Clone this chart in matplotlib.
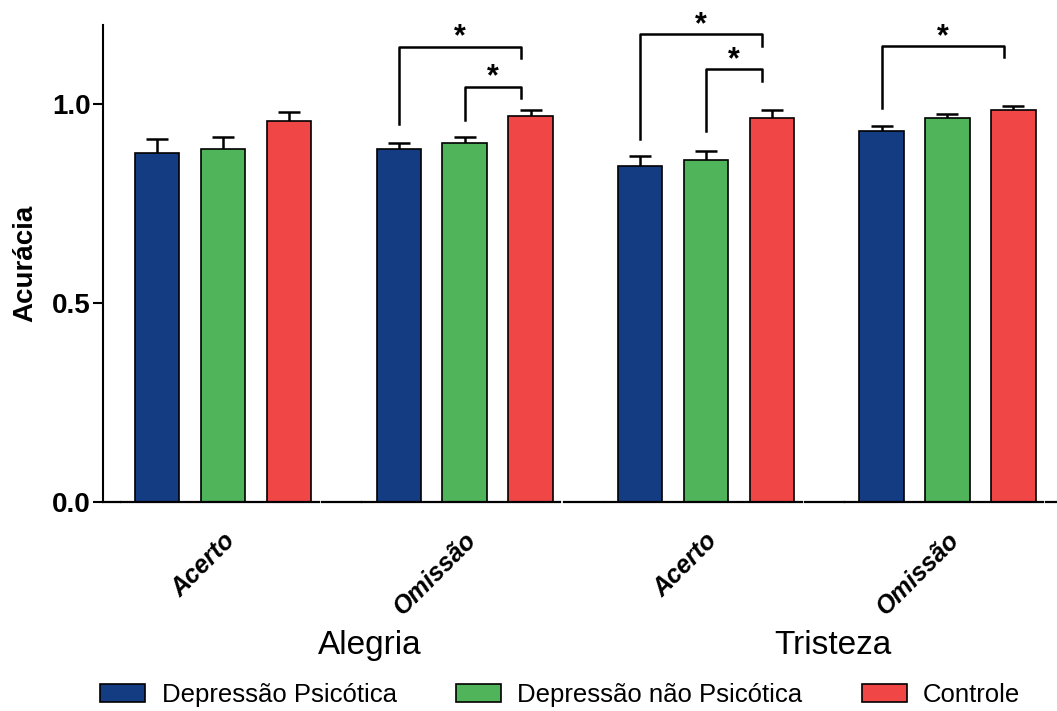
import numpy as np
import matplotlib
matplotlib.use('Agg')
import matplotlib.pyplot as plt
from matplotlib.patches import Patch

plt.rcParams['font.family'] = ['Liberation Sans', 'DejaVu Sans']

# data
conditions = ['Acerto', 'Omissão', 'Acerto', 'Omissão']
emotions = ['Alegria', 'Tristeza']
series = ['Depressão Psicótica', 'Depressão não Psicótica', 'Controle']
psicotica = [0.879, 0.887, 0.844, 0.932]
psicotica_err = [0.033, 0.017, 0.025, 0.013]
nao_psicotica = [0.889, 0.904, 0.861, 0.965]
nao_psicotica_err = [0.028, 0.015, 0.021, 0.010]
controle = [0.957, 0.972, 0.965, 0.987]
controle_err = [0.023, 0.013, 0.020, 0.010]

# significance brackets: condition index, bar from, bar to, bracket height, low end of left leg
sig_group = [1, 1, 2, 2, 3]
sig_from = [0, 1, 0, 1, 0]
sig_to = [2, 2, 2, 2, 2]
sig_height = [1.144, 1.045, 1.176, 1.088, 1.146]
sig_leg_low = [0.95, 0.96, 0.912, 0.932, 0.99]

colors = ['#143c82', '#50b45a', '#f04646']
values = [psicotica, nao_psicotica, controle]
errors = [psicotica_err, nao_psicotica_err, controle_err]

group_step = 3.66
bar_w = 0.67
base = np.arange(len(conditions)) * group_step

fig = plt.figure(figsize=(10.57, 7.11), dpi=100)
ax = fig.add_axes([0.0975, 0.294, 0.9025, 0.671])

for j in range(3):
    x = base + j
    ax.bar(x, values[j], width=bar_w, color=colors[j], edgecolor='black',
           linewidth=1.2, zorder=2)
    # symmetric bars drawn behind the bar, so only the upper half shows
    ax.errorbar(x, values[j], yerr=errors[j], fmt='none',
                ecolor='black', elinewidth=1.8, capsize=8, capthick=1.8, zorder=1)

ax.set_xlim(-0.82, 13.64)
ax.set_ylim(0, 1.2)
ax.set_yticks([0.0, 0.5, 1.0])
ax.set_yticklabels(['0.0', '0.5', '1.0'], fontsize=20, fontweight='bold')
ax.tick_params(axis='y', length=7, width=1.5, pad=2)
ax.set_xticks([])
ax.set_ylabel('Acurácia', fontsize=20, fontweight='bold', labelpad=10)

for s in ['top', 'right', 'bottom']:
    ax.spines[s].set_visible(False)
ax.spines['left'].set_linewidth(1.5)

# segmented baseline, GraphPad style
tr = ax.get_xaxis_transform()
segs = [(-0.82, -0.57)]
for i, b in enumerate(base):
    segs.append((b - 0.55, b + 2.45))
    nxt = base[i + 1] - 0.57 if i + 1 < len(base) else 13.64
    segs.append((b + 2.5, nxt))
for a, c in segs:
    ax.plot([a, c], [0, 0], color='black', lw=1.6, transform=tr, clip_on=False, zorder=4)

# condition labels
for b, lab in zip(base, conditions):
    ax.text(b + 1.12, -0.073, lab, transform=tr, rotation=45, rotation_mode='anchor',
            ha='right', va='center', fontsize=18, fontweight='bold', style='italic')

# emotion labels
emo_shift = [0.39, 0.09]
for k, emo in enumerate(emotions):
    mid = (base[2 * k] + base[2 * k + 1]) / 2 + 1 + emo_shift[k]
    ax.text(mid, -0.30, emo, transform=tr, ha='center', va='center', fontsize=24)

# significance brackets
for g, f, t, h, low in zip(sig_group, sig_from, sig_to, sig_height, sig_leg_low):
    x1 = base[g] + f
    x2 = base[g] + t - 0.15
    ax.plot([x1, x1, x2, x2], [low, h, h, h - 0.028], color='black', lw=1.8,
            clip_on=False, zorder=4)
    ax.text((x1 + x2) / 2, h + 0.004, '*', ha='center', va='baseline',
            fontsize=22, fontweight='bold', clip_on=False)

handles = [Patch(facecolor=c, edgecolor='black', linewidth=1.2) for c in colors]
fig.legend(handles, series, loc='center', bbox_to_anchor=(0.530, 0.0225), ncol=3,
           frameon=False, fontsize=18.5, handlelength=1.75, handleheight=0.66,
           handletextpad=0.65, columnspacing=2.3)

fig.savefig('out.png', dpi=100)
